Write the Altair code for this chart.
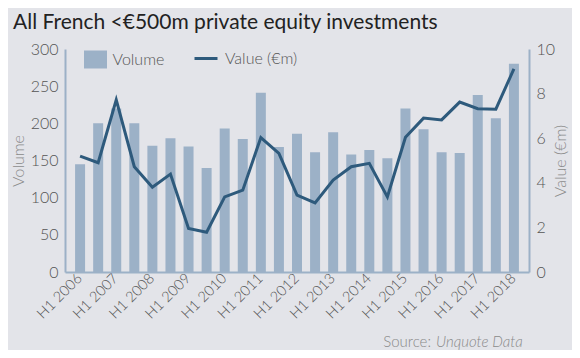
import altair as alt
import pandas as pd

periods = []
for yr in range(2006, 2019):
    periods.append(f"H1 {yr}")
    if yr < 2018:
        periods.append(f"H2 {yr}")

volume = [145, 200, 220, 200, 170, 180, 169, 140, 193, 179, 241, 168, 186,
          161, 188, 158, 164, 153, 220, 192, 161, 160, 238, 207, 280]
value_em = [5.2, 4.9, 7.72, 4.72, 3.8, 4.39, 1.95, 1.78, 3.37, 3.67, 6.03, 5.32, 3.45,
            3.1, 4.12, 4.72, 4.87, 3.37, 6.04, 6.9, 6.82, 7.62, 7.32, 7.3, 9.11]

title_text = "All French <€500m private equity investments"
source_label = "Source:"
source_name = "Unquote Data"

df = pd.DataFrame({"period": periods, "volume": volume, "value": value_em,
                   "s_bar": "Volume", "s_line": "Value (€m)"})

W, H = 464, 223
FONT = "Lato"
BAR_C = "#9cb1c7"
LINE_C = "#2e5a7c"
AX_C = "#9cb1c7"
LBL_C = "#555555"
TTL_C = "#8a8a8a"

x_enc = alt.X("period:N", sort=periods,
              scale=alt.Scale(paddingInner=0.447, paddingOuter=0.558),
              axis=alt.Axis(title=None, labelAngle=-45, labelAlign="right", labelBaseline="middle",
                            labelExpr="indexof(datum.label, 'H1') == 0 ? datum.label : ''",
                            labelFont=FONT, labelFontSize=14.5, labelColor=LBL_C, labelFontWeight=300,
                            labelPadding=4, ticks=False, domainColor=AX_C, domainWidth=2,
                            labelOverlap=False, labelBound=False))

bars = alt.Chart(df).mark_bar().encode(
    x=x_enc,
    y=alt.Y("volume:Q", scale=alt.Scale(domain=[0, 300]),
            axis=alt.Axis(title="Volume", values=[0, 50, 100, 150, 200, 250, 300], grid=False, ticks=False,
                          domainColor=AX_C, domainWidth=2, labelFont=FONT, labelFontSize=16,
                          labelColor=LBL_C, labelFontWeight=300, labelPadding=7,
                          titleFont=FONT, titleFontSize=16, titleFontWeight=300, titleColor=TTL_C,
                          titlePadding=4)),
    color=alt.Color("s_bar:N", scale=alt.Scale(domain=["Volume"], range=[BAR_C]),
                    legend=alt.Legend(orient="none", legendX=21.5, legendY=1.5, title=None, padding=0,
                                      symbolType="M-1.28,-1H1.28V1H-1.28Z", symbolSize=324,
                                      symbolStrokeWidth=0, symbolOpacity=1,
                                      labelFont=FONT, labelFontSize=16, labelColor=LBL_C,
                                      labelFontWeight=300, labelOffset=8)),
)

line = alt.Chart(df).mark_line(strokeWidth=3).encode(
    x=alt.X("period:N", sort=periods),
    y=alt.Y("value:Q", scale=alt.Scale(domain=[0, 10]),
            axis=alt.Axis(title="Value (€m)", orient="right", values=[0, 2, 4, 6, 8, 10], grid=False,
                          ticks=False, domainColor=AX_C, domainWidth=2, labelFont=FONT, labelFontSize=16,
                          labelColor=LBL_C, labelFontWeight=300, labelPadding=7,
                          titleFont=FONT, titleFontSize=16, titleFontWeight=300, titleColor=TTL_C,
                          titleAngle=270, titlePadding=14)),
    stroke=alt.Stroke("s_line:N", scale=alt.Scale(domain=["Value (€m)"], range=[LINE_C]),
                      legend=alt.Legend(orient="none", legendX=128, legendY=-3.5, title=None, padding=0,
                                        symbolType="stroke", symbolSize=529, symbolStrokeWidth=3,
                                        labelFont=FONT, labelFontSize=16, labelColor=LBL_C,
                                        labelFontWeight=300, labelOffset=6)),
)

txt_df = pd.DataFrame({"a": [source_label], "b": [source_name], "t": [title_text]})
title_mark = alt.Chart(txt_df).mark_text(align="left", baseline="alphabetic", font=FONT, fontSize=21,
                                         color="#222222").encode(
    text="t:N", x=alt.value(-52), y=alt.value(-20))
src1 = alt.Chart(txt_df).mark_text(align="right", baseline="alphabetic", font=FONT, fontSize=15,
                                   fontWeight=300, color=TTL_C).encode(
    text="a:N", x=alt.value(366), y=alt.value(298))
src2 = alt.Chart(txt_df).mark_text(align="left", baseline="alphabetic", font=FONT, fontSize=15,
                                   fontWeight=300, fontStyle="italic", color=TTL_C).encode(
    text="b:N", x=alt.value(371), y=alt.value(298))

chart = alt.layer(bars, line, title_mark, src1, src2).resolve_scale(
    y="independent", color="independent").properties(
    width=W, height=H,
    autosize=alt.AutoSizeParams(type="none"),
    padding={"left": 57, "top": 41, "right": 43, "bottom": 78},
    background="#e3e4e9",
).configure_view(stroke=None)

chart.save("out.html", embed_options={"renderer": "svg", "actions": False})
